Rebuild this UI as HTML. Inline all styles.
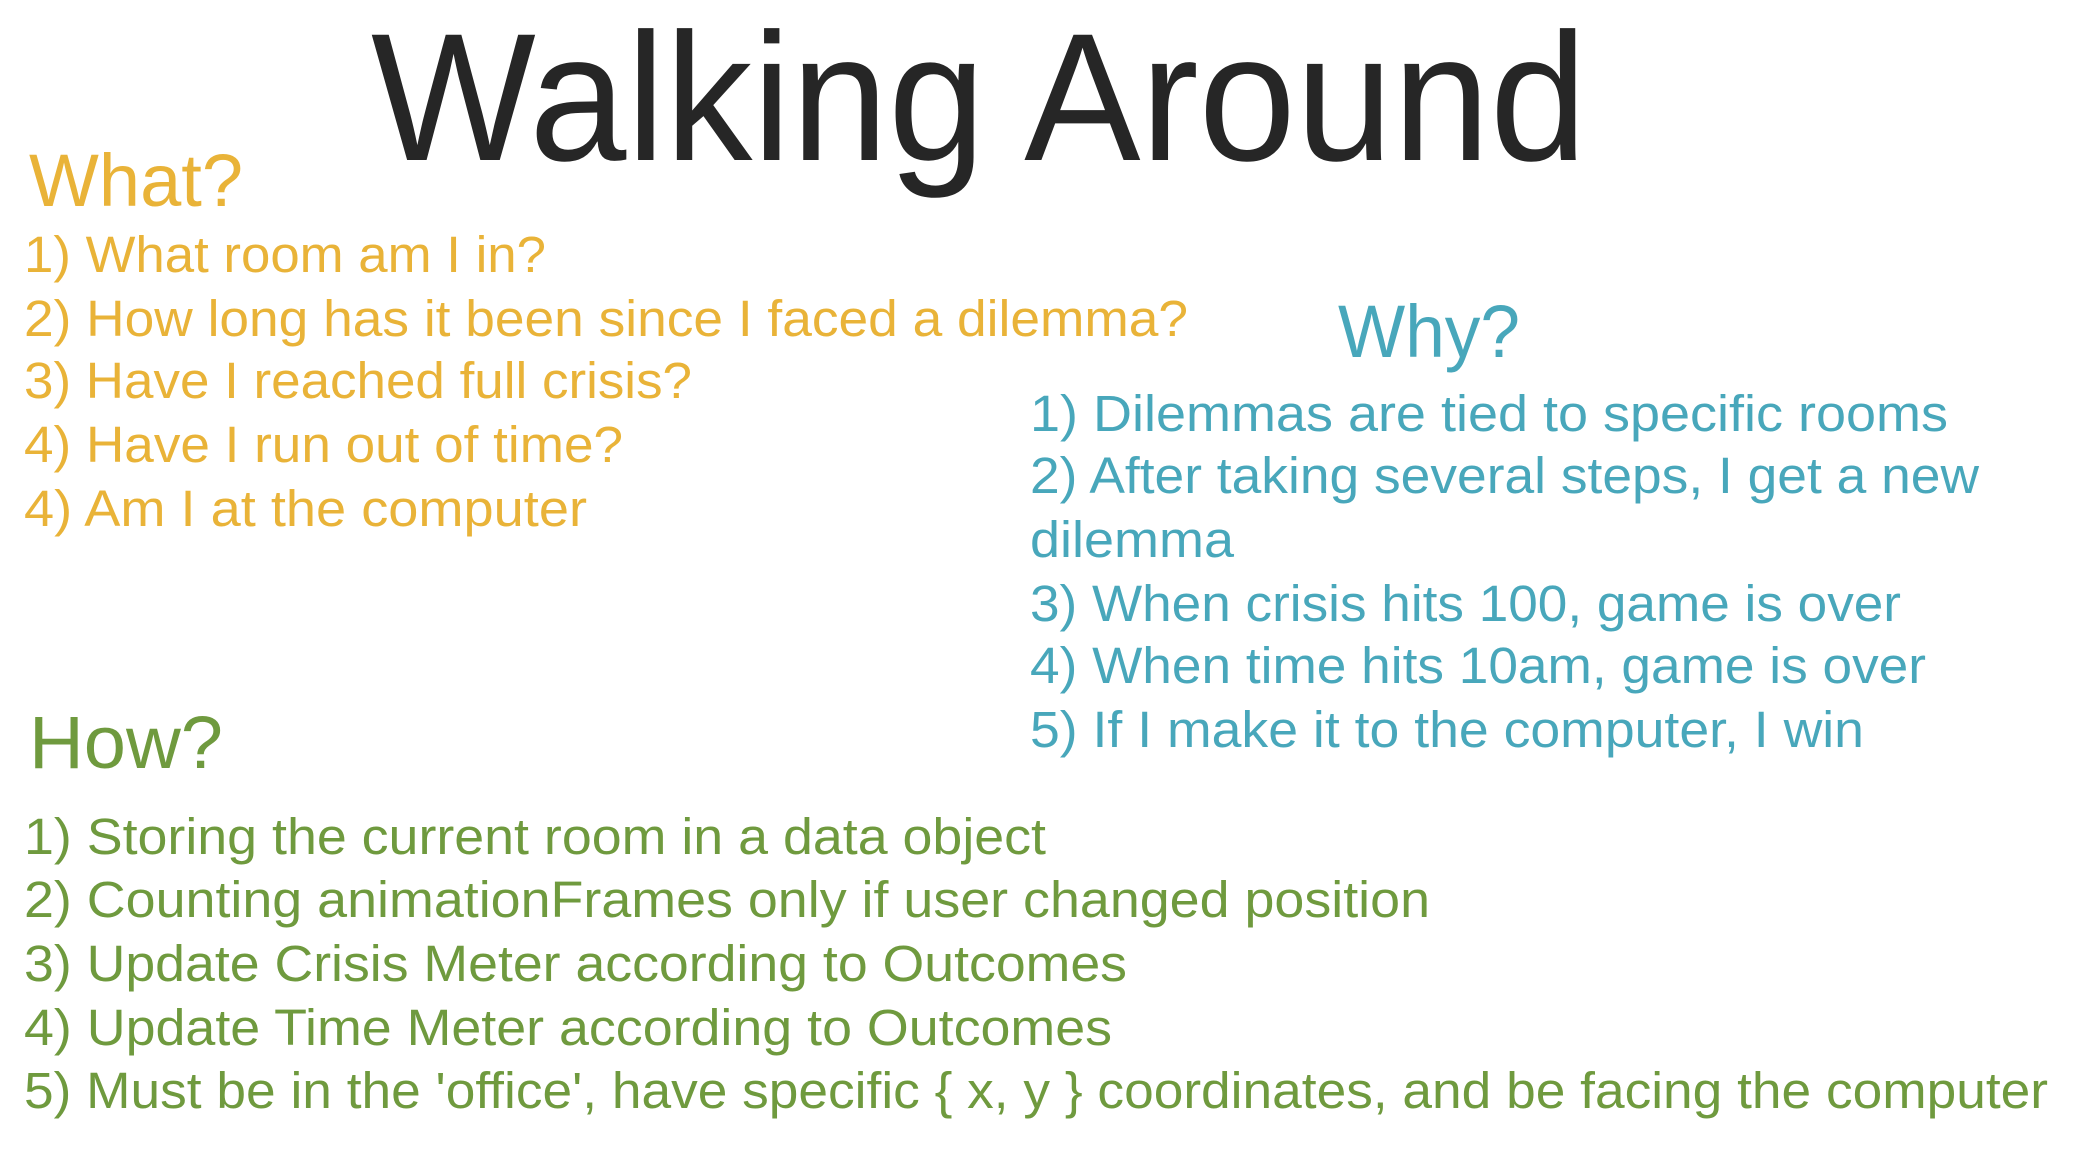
<!DOCTYPE html>
<html>
<head>
<meta charset="utf-8">
<style>
html,body{margin:0;padding:0;background:#fff;}
svg{display:block;}
text{font-family:"Liberation Sans",sans-serif;}
.o{fill:#E9B338;font-size:51px;}
.b{fill:#48A7BB;font-size:51px;}
.g{fill:#6F9A3E;font-size:51px;}
</style>
</head>
<body>
<svg width="2082" height="1164" viewBox="0 0 2082 1164">
<rect width="2082" height="1164" fill="#fff"/>
<text x="371" y="160" font-size="182" fill="#262626" textLength="1216" lengthAdjust="spacingAndGlyphs">Walking Around</text>

<text x="29" y="206" font-size="74" fill="#E9B338" textLength="214" lengthAdjust="spacingAndGlyphs">What?</text>
<text class="o" x="24" y="272" textLength="522" lengthAdjust="spacingAndGlyphs">1) What room am I in?</text>
<text class="o" x="24" y="336" textLength="1164" lengthAdjust="spacingAndGlyphs">2) How long has it been since I faced a dilemma?</text>
<text class="o" x="24" y="398" textLength="668" lengthAdjust="spacingAndGlyphs">3) Have I reached full crisis?</text>
<text class="o" x="24" y="462" textLength="599" lengthAdjust="spacingAndGlyphs">4) Have I run out of time?</text>
<text class="o" x="24" y="526" textLength="563" lengthAdjust="spacingAndGlyphs">4) Am I at the computer</text>

<text x="1338" y="357" font-size="74" fill="#48A7BB" textLength="182" lengthAdjust="spacingAndGlyphs">Why?</text>
<text class="b" x="1030" y="431" textLength="918" lengthAdjust="spacingAndGlyphs">1) Dilemmas are tied to specific rooms</text>
<text class="b" x="1030" y="493" textLength="949" lengthAdjust="spacingAndGlyphs">2) After taking several steps, I get a new</text>
<text class="b" x="1030" y="557" textLength="204" lengthAdjust="spacingAndGlyphs">dilemma</text>
<text class="b" x="1030" y="621" textLength="871" lengthAdjust="spacingAndGlyphs">3) When crisis hits 100, game is over</text>
<text class="b" x="1030" y="683" textLength="896" lengthAdjust="spacingAndGlyphs">4) When time hits 10am, game is over</text>
<text class="b" x="1030" y="747" textLength="834" lengthAdjust="spacingAndGlyphs">5) If I make it to the computer, I win</text>

<text x="29" y="768" font-size="74" fill="#6F9A3E" textLength="194" lengthAdjust="spacingAndGlyphs">How?</text>
<text class="g" x="24" y="854" textLength="1022" lengthAdjust="spacingAndGlyphs">1) Storing the current room in a data object</text>
<text class="g" x="24" y="917" textLength="1406" lengthAdjust="spacingAndGlyphs">2) Counting animationFrames only if user changed position</text>
<text class="g" x="24" y="981" textLength="1103" lengthAdjust="spacingAndGlyphs">3) Update Crisis Meter according to Outcomes</text>
<text class="g" x="24" y="1045" textLength="1088" lengthAdjust="spacingAndGlyphs">4) Update Time Meter according to Outcomes</text>
<text class="g" x="24" y="1108" textLength="2024" lengthAdjust="spacingAndGlyphs">5) Must be in the 'office', have specific { x, y } coordinates, and be facing the computer</text>
</svg>
</body>
</html>
